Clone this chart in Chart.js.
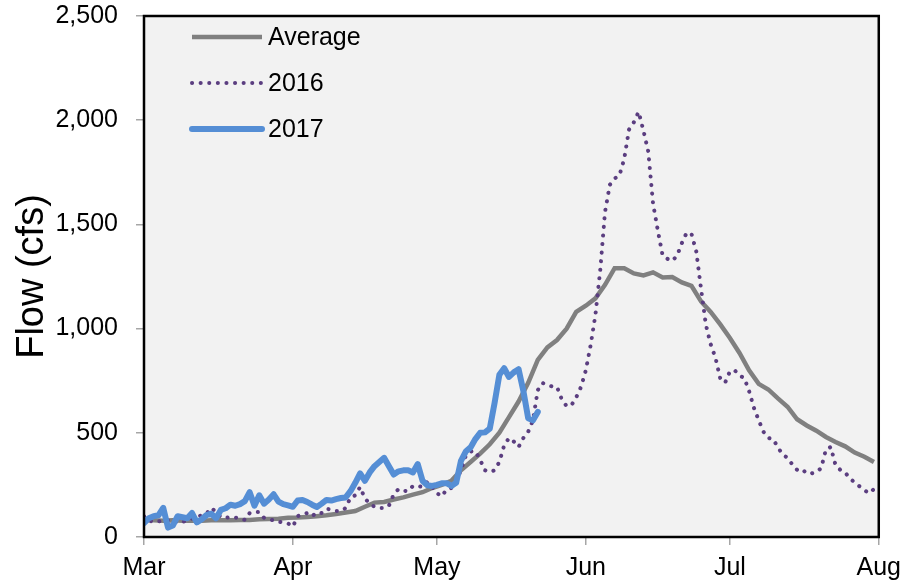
<!DOCTYPE html>
<html>
<head>
<meta charset="utf-8">
<script src="https://cdn.jsdelivr.net/npm/chart.js@4/dist/chart.umd.min.js"></script>
<style>
  body { margin: 0; background: #fff; }
  #wrap { width: 909px; height: 587px; }
</style>
</head>
<body>
<div id="wrap"><canvas id="flowChart" width="909" height="587"></canvas></div>
<script>
// Dias desde el 1 de marzo
const monthTicks = [0, 31, 61, 92, 122, 153];
const monthLabels = ['Mar', 'Apr', 'May', 'Jun', 'Jul', 'Aug'];
const yTicks = [0, 500, 1000, 1500, 2000, 2500];

// Promedio (un valor cada 2 dias)
const avgStep = 2;
const avgFlow = [
  80, 80, 78, 80, 78, 78, 78, 80, 80, 80,
  82, 82, 85, 86, 88, 92, 93, 96, 100, 104,
  110, 118, 125, 145, 165, 168, 180, 190, 203, 215,
  235, 250, 270, 320, 360, 400, 445, 500, 575, 650,
  740, 850, 910, 945, 1000, 1080, 1110, 1145, 1210, 1290,
  1290, 1265, 1255, 1270, 1245, 1248, 1222, 1205, 1130, 1080,
  1020, 955, 883, 800, 735, 708, 665, 625, 565, 535,
  510, 480, 456, 435, 405, 385, 360
];

// 2016 (diario)
const flow2016 = [
  100, 80, 72, 75, 78, 80, 82, 67, 72, 80,
  88, 95, 105, 112, 140, 120, 95, 92, 96, 93,
  91, 82, 115, 118, 120, 92, 85, 80, 73, 70,
  65, 50, 100, 108, 115, 100, 118, 115, 135, 132,
  125, 125, 139, 190, 200, 240, 185, 160, 145, 139,
  139, 150, 205, 230, 222, 220, 245, 245, 240, 264,
  240, 210, 195, 228, 235, 270, 320, 390, 410, 412,
  370, 320, 312, 320, 360, 440, 475, 458, 432, 475,
  505, 560, 705, 739, 730, 722, 720, 660, 628, 632,
  670, 720, 800, 920, 1066, 1280, 1560, 1690, 1720, 1735,
  1815, 1955, 1990, 2040, 1950, 1850, 1600, 1470, 1350, 1335,
  1325, 1350, 1410, 1460, 1455, 1370, 1190, 1018, 925, 860,
  760, 740, 795, 800, 775, 763, 700, 620, 560, 505,
  475, 470, 430, 395, 380, 348, 322, 326, 305, 305,
  312, 330, 420, 432, 345, 322, 310, 280, 262, 243,
  225, 210, 230
];

// 2017 (diario, hasta el 22 de mayo)
const flow2017 = [
  67, 90, 100, 104, 140, 45, 55, 100, 95, 90,
  115, 70, 85, 105, 112, 90, 130, 138, 155, 150,
  158, 172, 215, 150, 200, 160, 180, 205, 170, 158,
  152, 145, 175, 178, 168, 155, 144, 160, 178, 175,
  182, 187, 190, 220, 260, 305, 270, 310, 340, 360,
  380, 340, 300, 315, 320, 320, 310, 350, 270, 248,
  245, 250, 258, 258, 245, 260, 365, 410, 430, 470,
  500, 502, 520, 643, 778, 810, 768, 790, 805, 700,
  570, 560, 600
];

function toPoints(values, step) {
  return values.map((v, i) => ({ x: i * step, y: v }));
}

const plotArea = {
  id: 'plotArea',
  beforeDatasetsDraw(chart) {
    const { ctx, chartArea: a } = chart;
    ctx.save();
    ctx.fillStyle = '#f2f2f2';
    ctx.fillRect(a.left, a.top, a.right - a.left, a.bottom - a.top);
    ctx.restore();
  },
  afterDatasetsDraw(chart) {
    const { ctx, chartArea: a } = chart;
    ctx.save();
    ctx.strokeStyle = '#000';
    ctx.lineWidth = 2.5;
    ctx.strokeRect(a.left, a.top, a.right - a.left, a.bottom - a.top);
    ctx.restore();
  }
};

// leyenda dentro del area del grafico
const insideLegend = {
  id: 'insideLegend',
  afterDraw(chart) {
    const ctx = chart.ctx;
    const x0 = chart.chartArea.left + 48;
    ctx.save();
    chart.data.datasets.forEach((ds, row) => {
      const y = chart.chartArea.top + 21 + row * 46;
      ctx.beginPath();
      ctx.strokeStyle = ds.borderColor;
      ctx.lineWidth = ds.borderWidth;
      ctx.lineCap = ds.borderCapStyle || 'butt';
      ctx.setLineDash(ds.borderDash || []);
      ctx.moveTo(x0, y);
      ctx.lineTo(x0 + 70, y);
      ctx.stroke();
      ctx.setLineDash([]);
      ctx.fillStyle = '#000';
      ctx.font = '25px "Liberation Sans", Arial, sans-serif';
      ctx.textBaseline = 'middle';
      ctx.fillText(ds.label, x0 + 76, y + 1);
    });
    ctx.restore();
  }
};

const ctx = document.getElementById('flowChart').getContext('2d');
const flowChart = new Chart(ctx, {
  type: 'line',
  data: {
    datasets: [
      { label: 'Average', data: toPoints(avgFlow, avgStep), borderColor: '#808080', borderWidth: 4.5, order: 3 },
      { label: '2016', data: toPoints(flow2016, 1), borderColor: '#5b3e80', borderWidth: 4,
        borderDash: [0.1, 8.5], borderCapStyle: 'round', order: 2 },
      { label: '2017', data: toPoints(flow2017, 1), borderColor: '#558ed5', borderWidth: 6,
        borderCapStyle: 'round', borderJoinStyle: 'round', order: 1 }
    ]
  },
  options: {
    responsive: false,
    animation: false,
    events: [],
    elements: { point: { radius: 0 }, line: { tension: 0, fill: false } },
    layout: { padding: { top: 16, right: 28, left: 0, bottom: 0 } },
    plugins: { legend: { display: false }, tooltip: { enabled: false } },
    scales: {
      x: {
        type: 'linear',
        min: 0,
        max: 153,
        afterBuildTicks: (scale) => { scale.ticks = monthTicks.map(v => ({ value: v })); },
        afterFit: (scale) => { scale.height = 50; },
        ticks: {
          autoSkip: false,
          maxRotation: 0,
          padding: 8,
          color: '#000',
          font: { family: '"Liberation Sans", Arial, sans-serif', size: 25 },
          callback: (value) => monthLabels[monthTicks.indexOf(value)]
        },
        grid: { drawOnChartArea: false, drawTicks: true, tickLength: 8, color: '#a6a6a6', lineWidth: 1.5 },
        border: { display: false }
      },
      y: {
        min: 0,
        max: 2500,
        afterBuildTicks: (scale) => { scale.ticks = yTicks.map(v => ({ value: v })); },
        afterFit: (scale) => {
          scale.width = 144;
          scale.paddingTop = 0;
          scale.paddingBottom = 0;
        },
        ticks: {
          padding: 18,
          color: '#000',
          font: { family: '"Liberation Sans", Arial, sans-serif', size: 25 },
          callback: (value) => value.toLocaleString('en-US')
        },
        grid: { drawOnChartArea: false, drawTicks: true, tickLength: 8, color: '#a6a6a6', lineWidth: 1.5 },
        border: { display: false },
        title: {
          display: true,
          text: 'Flow (cfs)',
          color: '#000',
          padding: { top: 10, bottom: 0 },
          font: { family: '"Liberation Sans", Arial, sans-serif', size: 38 }
        }
      }
    }
  },
  plugins: [plotArea, insideLegend]
});
</script>
</body>
</html>
